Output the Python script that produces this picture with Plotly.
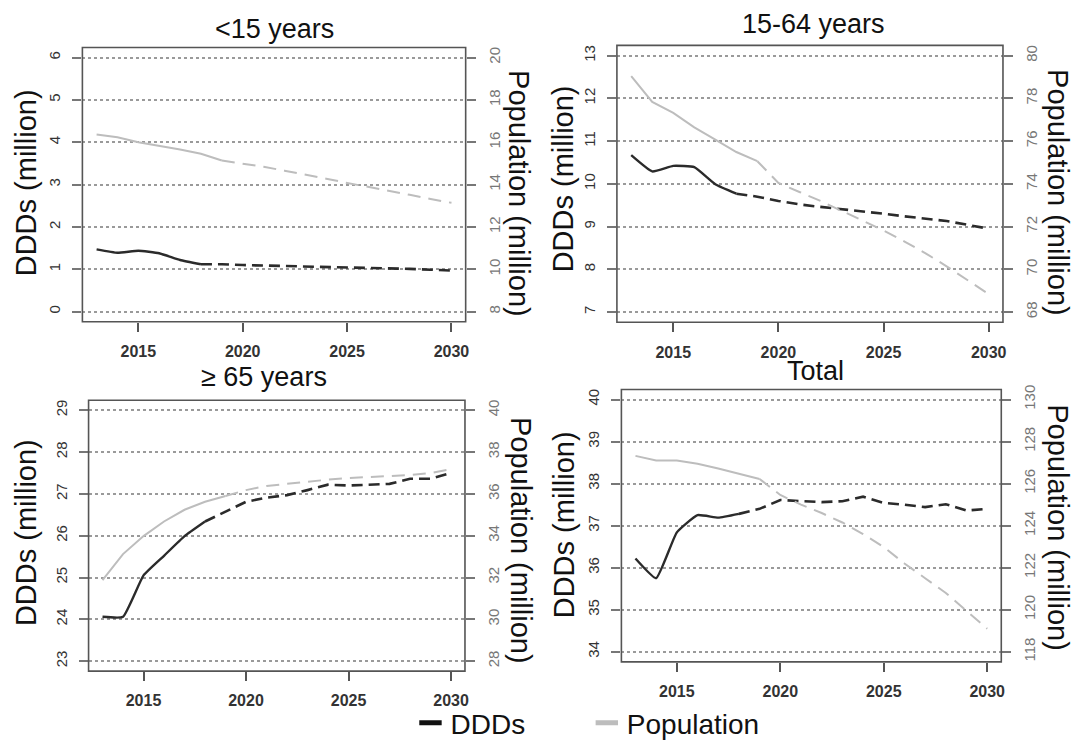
import plotly.graph_objects as go

W, H = 1081, 748
FONT = "Liberation Sans, Arial, sans-serif"

years = [2013, 2014, 2015, 2016, 2017, 2018, 2019, 2020, 2021, 2022,
         2023, 2024, 2025, 2026, 2027, 2028, 2029, 2030]
ddd_obs_end = 2018
pop_obs_end = 2019

titles = ["<15 years", "15-64 years", "\u2265 65 years", "Total"]

ddd_u15 = [1.47, 1.39, 1.44, 1.38, 1.22, 1.12, 1.12, 1.10, 1.09, 1.08,
           1.07, 1.06, 1.04, 1.03, 1.02, 1.01, 0.99, 0.97]
pop_u15 = [16.37, 16.24, 16.0, 15.84, 15.66, 15.46, 15.14, 15.0, 14.84, 14.66,
           14.48, 14.28, 14.08, 13.9, 13.7, 13.52, 13.32, 13.14]

ddd_1564 = [10.67, 10.29, 10.42, 10.39, 9.99, 9.77, 9.70, 9.60, 9.52, 9.46,
            9.41, 9.36, 9.30, 9.24, 9.19, 9.13, 9.04, 8.95]
pop_1564 = [79.04, 77.83, 77.32, 76.64, 76.07, 75.49, 75.06, 74.04, 73.62, 73.2,
            72.74, 72.28, 71.82, 71.3, 70.75, 70.14, 69.5, 68.84]

ddd_65 = [24.06, 24.06, 25.05, 25.52, 25.99, 26.34, 26.58, 26.81, 26.91, 26.97,
          27.09, 27.22, 27.2, 27.22, 27.24, 27.36, 27.36, 27.5]
pop_65 = [31.88, 33.12, 33.98, 34.68, 35.24, 35.62, 35.9, 36.18, 36.38, 36.48,
          36.6, 36.68, 36.76, 36.8, 36.84, 36.9, 37.0, 37.18]

ddd_tot = [36.22, 35.75, 36.84, 37.25, 37.19, 37.28, 37.40, 37.61, 37.58, 37.56,
           37.58, 37.69, 37.54, 37.5, 37.44, 37.51, 37.36, 37.4]
pop_tot = [127.32, 127.1, 127.1, 126.94, 126.72, 126.48, 126.22, 125.46, 125.0, 124.6,
           124.15, 123.6, 122.98, 122.2, 121.5, 120.8, 119.94, 119.1]

ddd_series = [ddd_u15, ddd_1564, ddd_65, ddd_tot]
pop_series = [pop_u15, pop_1564, pop_65, pop_tot]

left_ticks = [[0, 1, 2, 3, 4, 5, 6], [7, 8, 9, 10, 11, 12, 13],
              [23, 24, 25, 26, 27, 28, 29], [34, 35, 36, 37, 38, 39, 40]]
right_ticks = [[8, 10, 12, 14, 16, 18, 20], [68, 70, 72, 74, 76, 78, 80],
               [28, 30, 32, 34, 36, 38, 40], [118, 120, 122, 124, 126, 128, 130]]
x_ticks = [2015, 2020, 2025, 2030]

# layout (pixels): box x0, x1, y0(top), y1(bottom)
boxes = [(82.7, 467.4, 43.3, 323.3), (619.2, 1006.7, 41.2, 323.8),
         (88.9, 466.7, 403.3, 679.8), (623.7, 1005.0, 392.3, 670.3)]
title_pos = [(275.5, 24), (817, 19), (265, 380), (819, 373)]
ltitle_pos = [(26, 181), (566, 177), (26, 538), (566, 530)]
rtitle_pos = [(521, 192), (1062, 191), (523, 546), (1062, 533)]

DDD_COL = "#2b2b2b"
POP_COL = "#bdbdbd"

fig = go.Figure()
layout = {}
annotations = []
shapes = []


def ext(lo, hi):
    d = (hi - lo) * 0.04
    return [lo - d, hi + d]


for i in range(4):
    xa = "x" if i == 0 else f"x{i+1}"
    yl_n = 2 * i + 1
    yr_n = 2 * i + 2
    yl = "y" if yl_n == 1 else f"y{yl_n}"
    yr = f"y{yr_n}"
    x0, x1, t, b = boxes[i]
    dx = [x0 / W, x1 / W]
    dy = [1 - b / H, 1 - t / H]

    ddd = ddd_series[i]
    pop = pop_series[i]
    k_d = years.index(ddd_obs_end) + 1
    k_p = years.index(pop_obs_end) + 1

    fig.add_trace(go.Scatter(x=years[k_p - 1:], y=pop[k_p - 1:], mode="lines",
                             line=dict(color=POP_COL, width=2, dash="13px,8px"),
                             xaxis=xa, yaxis=yr, showlegend=False))
    fig.add_trace(go.Scatter(x=years[:k_p], y=pop[:k_p], mode="lines",
                             line=dict(color=POP_COL, width=2),
                             xaxis=xa, yaxis=yr, showlegend=False))
    fig.add_trace(go.Scatter(x=years[k_d - 1:], y=ddd[k_d - 1:], mode="lines",
                             line=dict(color=DDD_COL, width=2.6, dash="11px,6px"),
                             xaxis=xa, yaxis=yl, showlegend=False))
    fig.add_trace(go.Scatter(x=years[:k_d], y=ddd[:k_d], mode="lines",
                             line=dict(color=DDD_COL, width=2.4, shape="spline", smoothing=0.4),
                             xaxis=xa, yaxis=yl, showlegend=False))

    xkey = "xaxis" if i == 0 else f"xaxis{i+1}"
    ylkey = "yaxis" if yl_n == 1 else f"yaxis{yl_n}"
    yrkey = f"yaxis{yr_n}"
    layout[xkey] = dict(domain=dx, anchor=yl, range=[2012.32, 2030.68],
                        tickmode="array", tickvals=x_ticks,
                        ticks="outside", ticklen=9, tickwidth=1.5, tickcolor="#555",
                        showgrid=False, zeroline=False, showline=False,
                        ticklabelstandoff=6,
                        tickfont=dict(family=FONT, size=16, color="#333", weight="bold"))
    lt = left_ticks[i]
    rt = right_ticks[i]
    layout[ylkey] = dict(domain=dy, anchor=xa, range=ext(lt[0], lt[-1]),
                         tickmode="array", tickvals=lt,
                         ticks="outside", ticklen=9, tickwidth=1.5, tickcolor="#777",
                         showgrid=True, gridcolor="#9a9a9a", gridwidth=1.6, griddash="dot",
                         zeroline=False, showline=False, tickangle=-90,
                         ticklabelstandoff=6,
                         tickfont=dict(family=FONT, size=15, color="#333"))
    layout[yrkey] = dict(domain=dy, anchor=xa, overlaying=yl, side="right",
                         range=ext(rt[0], rt[-1]),
                         tickmode="array", tickvals=rt,
                         ticks="outside", ticklen=9, tickwidth=1.5, tickcolor="#777",
                         showgrid=False, zeroline=False, showline=False, tickangle=-90,
                         ticklabelstandoff=6,
                         tickfont=dict(family=FONT, size=15, color="#777"))

    shapes.append(dict(type="rect", xref=f"{xa} domain", yref=f"{yl} domain",
                       x0=0, x1=1, y0=0, y1=1,
                       line=dict(color="#555", width=1.6), layer="above"))

    tx, ty = title_pos[i]
    annotations.append(dict(text=titles[i], x=tx / W, y=1 - ty / H, xref="paper", yref="paper",
                            xanchor="center", yanchor="middle", showarrow=False,
                            font=dict(family=FONT, size=27, color="#111")))
    lx, ly = ltitle_pos[i]
    annotations.append(dict(text="DDDs (million)", x=lx / W, y=1 - ly / H,
                            xref="paper", yref="paper", xanchor="center", yanchor="middle",
                            showarrow=False, textangle=-90,
                            font=dict(family=FONT, size=29, color="#111")))
    rx, ry = rtitle_pos[i]
    annotations.append(dict(text="Population (million)", x=rx / W, y=1 - ry / H,
                            xref="paper", yref="paper", xanchor="center", yanchor="middle",
                            showarrow=False, textangle=90,
                            font=dict(family=FONT, size=29, color="#111")))

# legend-only entries
fig.add_trace(go.Scatter(x=[None], y=[None], mode="markers", name="DDDs",
                         marker=dict(symbol="line-ew", size=20,
                                     line=dict(color="#111", width=5)),
                         legend="legend", showlegend=True))
fig.add_trace(go.Scatter(x=[None], y=[None], mode="markers", name="Population",
                         marker=dict(symbol="line-ew", size=20,
                                     line=dict(color=POP_COL, width=5)),
                         legend="legend2", showlegend=True))

leg_common = dict(orientation="h", yanchor="middle", xanchor="left",
                  bgcolor="rgba(0,0,0,0)", borderwidth=0,
                  font=dict(family=FONT, size=28, color="#111"))
layout["legend"] = dict(x=412 / W, y=1 - 733 / H, **leg_common)
layout["legend2"] = dict(x=589 / W, y=1 - 733 / H, **leg_common)

fig.update_layout(width=W, height=H, margin=dict(l=0, r=0, t=0, b=0),
                  paper_bgcolor="white", plot_bgcolor="white",
                  annotations=annotations, shapes=shapes, **layout)

fig.write_html("out.html")
